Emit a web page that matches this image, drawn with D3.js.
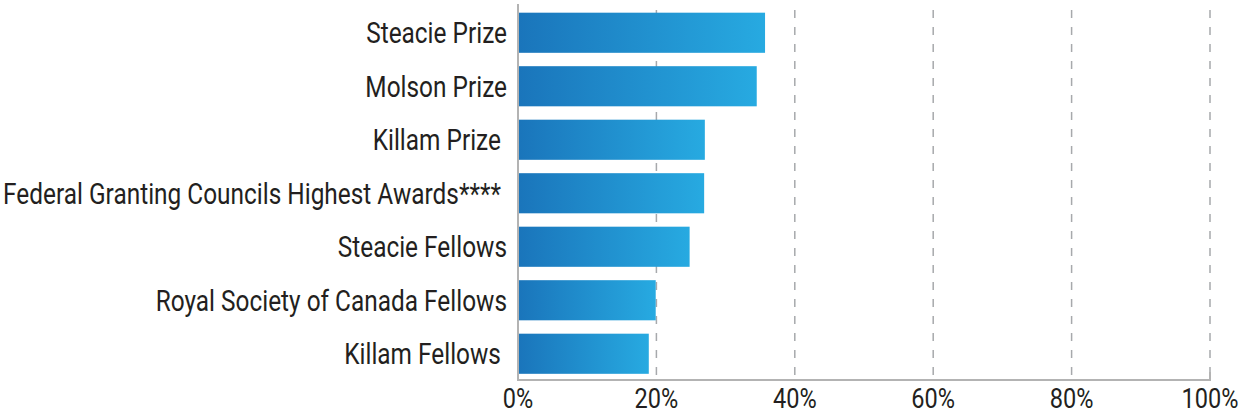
<!DOCTYPE html>
<html lang="en">
<head>
  <meta charset="UTF-8">
  <title>Awards share</title>
  <script src="https://d3js.org/d3.v7.min.js"></script>
  <style>
    body {
      background-color: #fff;
      margin: 0;
      font-family: Roboto, 'DejaVu Sans Condensed', Arial, sans-serif;
    }
    svg {
      display: block;
    }
    .label, .tick-label {
      fill: #231f20;
      font-size: 29px;
      font-weight: 400;
    }
    .grid {
      stroke: #a7a9ac;
      stroke-width: 1.5;
      stroke-dasharray: 8 9;
    }
    .axis-line {
      stroke: #b3b3b3;
      stroke-width: 2;
    }
  </style>
</head>
<body>

<svg id="chart" width="1241" height="415"></svg>

<script>
const categories = [
  "Steacie Prize",
  "Molson Prize",
  "Killam Prize\u00a0",
  "Federal Granting Councils Highest Awards****\u00a0",
  "Steacie Fellows",
  "Royal Society of Canada Fellows",
  "Killam Fellows\u00a0"
];
const values = [35.7, 34.5, 27.0, 26.9, 24.8, 19.9, 18.9];
const ticks = [0, 20, 40, 60, 80, 100];

const svg = d3.select("#chart");

const x = d3.scaleLinear().domain([0, 100]).range([518, 1210]);
const y = d3.scaleBand().domain(categories).range([6, 380.5]).paddingInner(0.25).paddingOuter(0.125);
const axisY = 380;

// the original uses a condensed face; squeeze the text horizontally to match
const probe = svg.append("text").attr("class", "label").style("white-space", "pre").text(categories[3]);
const squeeze = 504 / probe.node().getComputedTextLength();
probe.remove();

// gradient for the bars
const grad = svg.append("defs").append("linearGradient")
    .attr("id", "barGrad")
    .attr("x1", "0%").attr("x2", "100%");
grad.append("stop").attr("offset", "0%").attr("stop-color", "#1a75bb");
grad.append("stop").attr("offset", "100%").attr("stop-color", "#27aae1");

// dashed grid lines
svg.selectAll(".grid")
  .data(ticks.slice(1))
  .join("line")
    .attr("class", "grid")
    .attr("x1", d => x(d)).attr("x2", d => x(d))
    .attr("y1", 10).attr("y2", axisY);

// axis lines
svg.append("line").attr("class", "axis-line")
  .attr("x1", x(0)).attr("x2", x(0)).attr("y1", 4).attr("y2", axisY + 1);
svg.append("line").attr("class", "axis-line")
  .attr("x1", x(0)).attr("x2", x(100)).attr("y1", axisY).attr("y2", axisY);
svg.append("line").attr("class", "axis-line")
  .attr("x1", x(100)).attr("x2", x(100)).attr("y1", axisY - 8).attr("y2", axisY + 1);

// bars
svg.selectAll(".bar")
  .data(values)
  .join("rect")
    .attr("class", "bar")
    .attr("x", x(0) + 1)
    .attr("y", (d, i) => y(categories[i]))
    .attr("width", d => x(d) - x(0) - 1)
    .attr("height", y.bandwidth())
    .attr("fill", "url(#barGrad)");

// category labels
svg.selectAll(".label")
  .data(categories)
  .join("text")
    .attr("class", "label")
    .attr("transform", d => `translate(507,${y(d) + y.bandwidth() / 2}) scale(${squeeze},1)`)
    .attr("dy", "0.36em")
    .attr("text-anchor", "end")
    .style("white-space", "pre")
    .text(d => d);

// tick labels
svg.selectAll(".tick-label")
  .data(ticks)
  .join("text")
    .attr("class", "tick-label")
    .attr("transform", d => `translate(${x(d)},408) scale(${squeeze},1)`)
    .attr("text-anchor", "middle")
    .style("font-size", "28px")
    .text(d => d + "%");
</script>

</body>
</html>
